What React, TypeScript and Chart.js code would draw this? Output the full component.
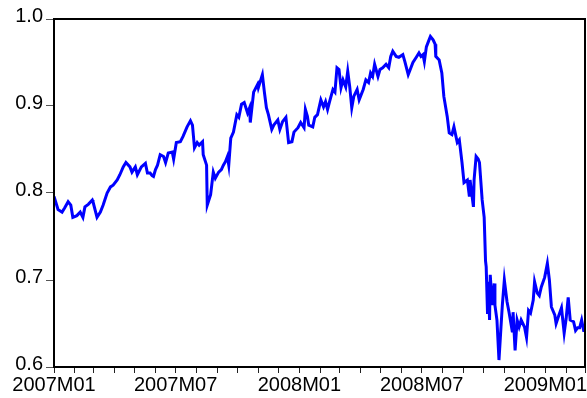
import React, { useEffect, useRef } from "react";
import { Chart, registerables } from "chart.js";

Chart.register(...registerables);

// observation day (days since 2007-01-01)
const obsDay = [
  0, 6, 12, 16, 21, 25, 28, 34, 39, 43, 46, 51, 57, 58, 64, 69, 73, 79, 84, 88,
  94, 98, 103, 107, 113, 116, 121, 124, 130, 136, 139, 143, 146, 148, 151, 154, 158, 163, 166, 170,
  176, 178, 182, 188, 192, 198, 203, 206, 209, 213, 216, 221, 222, 227, 228, 233, 237, 240, 245, 249,
  252, 255, 258, 260, 263, 267, 272, 275, 279, 283, 288, 291, 292, 297, 303, 304, 310, 313, 316, 319,
  324, 327, 333, 336, 340, 345, 349, 354, 357, 363, 367, 372, 374, 377, 379, 385, 388, 392, 397, 401,
  404, 407, 410, 415, 418, 421, 424, 427, 430, 434, 437, 440, 443, 446, 451, 454, 460, 464, 468, 471,
  474, 477, 482, 485, 489, 494, 498, 501, 504, 509, 513, 519, 522, 527, 530, 534, 539, 543, 546, 549,
  551, 554, 558, 560, 564, 567, 568, 573, 577, 580, 585, 588, 592, 595, 600, 603, 607, 610, 615, 618,
  619, 624, 625, 628, 631, 633, 637, 640, 642, 643, 645, 646, 648, 649, 652, 655, 656, 659, 662, 667,
  670, 674, 677, 682, 683, 686, 689, 692, 695, 700, 703, 706, 709, 713, 715, 719, 722, 725, 730, 734,
  737, 740, 745, 747, 750, 755, 759, 762, 765, 768, 773, 776, 779, 782, 785, 788, 790,
];

const rate = [
  0.796, 0.781, 0.778, 0.783, 0.79, 0.786, 0.772, 0.774, 0.778, 0.772, 0.784, 0.787, 0.792, 0.79, 0.772, 0.778, 0.786, 0.8, 0.807, 0.809,
  0.815, 0.821, 0.83, 0.835, 0.83, 0.824, 0.83, 0.821, 0.83, 0.834, 0.823, 0.823, 0.82, 0.819, 0.827, 0.832, 0.844, 0.842, 0.835, 0.846,
  0.847, 0.839, 0.858, 0.859, 0.865, 0.876, 0.883, 0.878, 0.852, 0.858, 0.855, 0.859, 0.844, 0.832, 0.786, 0.798, 0.824, 0.817, 0.824, 0.827,
  0.832, 0.836, 0.842, 0.832, 0.863, 0.87, 0.89, 0.887, 0.902, 0.904, 0.892, 0.898, 0.881, 0.916, 0.925, 0.921, 0.936, 0.916, 0.898, 0.89,
  0.873, 0.878, 0.884, 0.873, 0.882, 0.887, 0.858, 0.859, 0.87, 0.875, 0.881, 0.875, 0.896, 0.888, 0.878, 0.876, 0.887, 0.89, 0.907, 0.899,
  0.905, 0.896, 0.905, 0.919, 0.916, 0.944, 0.942, 0.921, 0.93, 0.922, 0.94, 0.922, 0.898, 0.911, 0.919, 0.907, 0.919, 0.93, 0.927, 0.938,
  0.934, 0.948, 0.934, 0.942, 0.944, 0.948, 0.944, 0.957, 0.963, 0.957, 0.956, 0.959, 0.951, 0.936, 0.942, 0.95, 0.956, 0.961, 0.957, 0.959,
  0.951, 0.968, 0.976, 0.98, 0.976, 0.971, 0.957, 0.953, 0.938, 0.911, 0.888, 0.869, 0.867, 0.876, 0.858, 0.861, 0.835, 0.812, 0.815, 0.796,
  0.815, 0.784, 0.815, 0.842, 0.839, 0.835, 0.792, 0.772, 0.722, 0.715, 0.661, 0.698, 0.654, 0.706, 0.671, 0.696, 0.671, 0.654, 0.608, 0.671,
  0.7, 0.675, 0.663, 0.64, 0.663, 0.619, 0.654, 0.646, 0.654, 0.646, 0.634, 0.665, 0.662, 0.677, 0.698, 0.685, 0.682, 0.692, 0.703, 0.719,
  0.7, 0.669, 0.66, 0.65, 0.657, 0.668, 0.639, 0.656, 0.68, 0.654, 0.652, 0.642, 0.645, 0.645, 0.654, 0.642, 0.642,
];

const yTickValues = [0.6, 0.7, 0.8, 0.9, 1.0];
const startYear = 2007;
const monthCount = 26;
const labelEvery = 6;

const framePlugin = {
  id: "frame",
  afterDatasetsDraw(chart: any) {
    const { ctx, chartArea } = chart;
    ctx.save();
    ctx.strokeStyle = "#000";
    ctx.lineWidth = 2;
    ctx.strokeRect(chartArea.left, chartArea.top, chartArea.right - chartArea.left, chartArea.bottom - chartArea.top);
    ctx.restore();
  },
};

export default function App() {
  const ref = useRef<HTMLCanvasElement>(null);

  useEffect(() => {
    const start = Date.UTC(startYear, 0, 1);
    const monthTicks: { value: number; label: string }[] = [];
    for (let m = 0; m <= monthCount; m++) {
      const d = (Date.UTC(startYear, m, 1) - start) / 86400000;
      const year = startYear + Math.floor(m / 12);
      const mon = (m % 12) + 1;
      monthTicks.push({
        value: d,
        label: m % labelEvery === 0 && m < monthCount ? `${year}M${String(mon).padStart(2, "0")}` : "",
      });
    }
    const points = obsDay.map((d, i) => ({ x: d, y: rate[i] }));
    const font = { family: "'Liberation Sans', Arial, sans-serif", size: 20 };

    const chart = new Chart(ref.current!, {
      type: "line",
      data: {
        datasets: [
          {
            data: points,
            borderColor: "#0000FF",
            borderWidth: 3,
            pointRadius: 0,
            tension: 0,
            fill: false,
          },
        ],
      },
      options: {
        responsive: false,
        animation: false,
        layout: { padding: { top: 19, right: 2, left: 0, bottom: 0 } },
        plugins: { legend: { display: false }, tooltip: { enabled: false } },
        scales: {
          x: {
            type: "linear",
            min: 0,
            max: monthTicks[monthTicks.length - 1].value,
            afterBuildTicks: (scale: any) => {
              scale.ticks = monthTicks.map((t) => ({ value: t.value }));
            },
            afterFit: (scale: any) => {
              scale.height = 31;
            },
            grid: { drawOnChartArea: false, drawTicks: true, tickLength: 6, tickColor: "#222", lineWidth: 1 },
            border: { display: false },
            ticks: {
              autoSkip: false,
              maxRotation: 0,
              padding: 0,
              color: "#000",
              font,
              callback: (_v: any, i: number) => monthTicks[i] ? monthTicks[i].label : "",
            },
          },
          y: {
            min: 0.6,
            max: 1.0,
            afterBuildTicks: (scale: any) => {
              scale.ticks = yTickValues.map((v) => ({ value: v }));
            },
            afterFit: (scale: any) => {
              scale.width = 54;
            },
            grid: { drawOnChartArea: false, drawTicks: true, tickLength: 8, tickColor: "#555", lineWidth: 1 },
            border: { display: false },
            ticks: {
              padding: 3,
              labelOffset: -3,
              color: "#000",
              font,
              callback: (v: any) => Number(v).toFixed(1),
            },
          },
        },
      },
      plugins: [framePlugin],
    });
    return () => chart.destroy();
  }, []);

  return (
    <canvas
      ref={ref}
      width={587}
      height={398}
      style={{ position: "fixed", left: 0, top: 0, display: "block", width: 587, height: 398 }}
    />
  );
}
